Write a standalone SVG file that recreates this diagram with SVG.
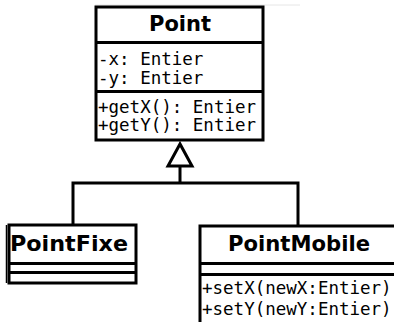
<svg xmlns="http://www.w3.org/2000/svg" width="394" height="322" viewBox="0 0 394 322">
<style>
.box{fill:#fff;stroke:#000;stroke-width:3}
.ln{fill:none;stroke:#000;stroke-width:3}
.title{font-family:"DejaVu Sans",sans-serif;font-weight:bold;font-size:20.5px;fill:#000}
.mono{font-family:"DejaVu Sans Mono",monospace;font-size:17.5px;fill:#000}
</style>
<rect width="394" height="322" fill="#fff"/>
<line x1="95" y1="5" x2="300" y2="5" stroke="#e6e6e6" stroke-width="1"/>
<g id="connectors">
<polyline class="ln" points="73,224 73,183 298,183 298,226"/>
<line class="ln" x1="180" y1="183" x2="180" y2="165"/>
<polygon points="180,144 168,166 192,166" fill="#fff" stroke="#000" stroke-width="3"/>
</g>
<g id="Point">
<rect class="box" x="96" y="7" width="167" height="133"/>
<line class="ln" x1="96" y1="42.5" x2="263" y2="42.5"/>
<line class="ln" x1="96" y1="91.5" x2="263" y2="91.5"/>
<text class="title" x="180" y="31" text-anchor="middle" textLength="62" lengthAdjust="spacingAndGlyphs">Point</text>
<text class="mono" x="98" y="64.5">-x: Entier</text>
<text class="mono" x="98" y="83.5">-y: Entier</text>
<text class="mono" x="98" y="112.5">+getX(): Entier</text>
<text class="mono" x="98" y="131">+getY(): Entier</text>
</g>
<g id="PointFixe">
<rect class="box" x="9" y="225" width="127" height="58"/>
<line x1="6.5" y1="225" x2="6.5" y2="283" stroke="#000" stroke-width="1.5"/>
<line class="ln" x1="9" y1="263.5" x2="136" y2="263.5"/>
<line class="ln" x1="9" y1="272.5" x2="136" y2="272.5"/>
<text class="title" x="69" y="250.5" text-anchor="middle" textLength="118" lengthAdjust="spacingAndGlyphs">PointFixe</text>
</g>
<g id="PointMobile">
<rect class="box" x="200" y="226" width="210" height="110"/>
<line class="ln" x1="200" y1="263.5" x2="394" y2="263.5"/>
<line class="ln" x1="200" y1="274.5" x2="394" y2="274.5"/>
<text class="title" x="299" y="250.5" text-anchor="middle" textLength="142" lengthAdjust="spacingAndGlyphs">PointMobile</text>
<text class="mono" x="202" y="294">+setX(newX:Entier)</text>
<text class="mono" x="202" y="314.5">+setY(newY:Entier)</text>
</g>
</svg>
